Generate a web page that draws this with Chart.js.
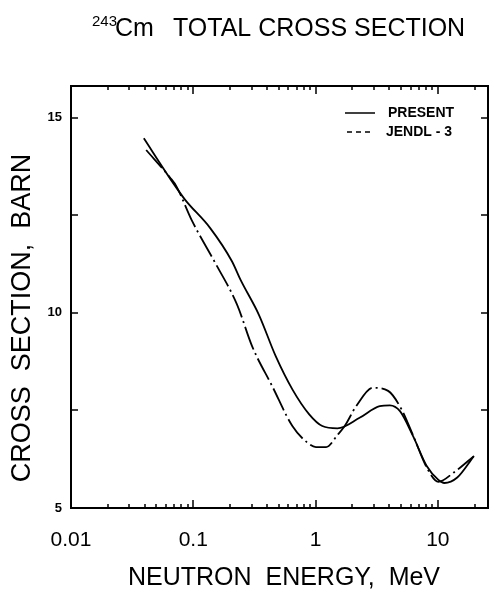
<!DOCTYPE html>
<html>
<head>
<meta charset="utf-8">
<script src="https://cdn.jsdelivr.net/npm/chart.js@4"></script>
<style>
	body { margin: 0; background: #fff; }
	canvas { display: block; }
</style>
</head>
<body>
<canvas id="chart" width="491" height="589"></canvas>
<script>
// values (energy in MeV, cross section in barn)
const presentEnergy = [0.0394, 0.0643, 0.0855, 0.1375, 0.207, 0.243, 0.344, 0.472, 0.646, 0.887, 1.135, 1.51, 2.29, 3.35, 4.05, 4.90, 6.27, 8.13, 10.1, 11.3, 14.4, 19.7];
const presentSigma = [14.47, 13.45, 12.90, 12.17, 11.32, 10.85, 9.95, 8.89, 8.04, 7.40, 7.10, 7.04, 7.31, 7.61, 7.63, 7.48, 6.84, 6.07, 5.72, 5.64, 5.78, 6.33];

const jendlEnergy = [0.0412, 0.0647, 0.0728, 0.0968, 0.151, 0.228, 0.303, 0.442, 0.646, 0.859, 1.007, 1.22, 1.52, 1.73, 2.15, 2.95, 3.92, 5.06, 6.31, 8.13, 10.1, 13.5, 19.7];
const jendlSigma = [14.17, 13.46, 13.24, 12.38, 11.28, 10.21, 9.14, 8.12, 7.10, 6.67, 6.56, 6.56, 6.88, 7.10, 7.61, 8.08, 8.00, 7.52, 6.84, 6.03, 5.67, 5.91, 6.33];

// tick labels
const xTickValues = [0.01, 0.1, 1, 10];
const yTickValues = [5, 10, 15];
const yMinorValues = [7.5, 12.5];

const FONT = "'Liberation Sans', Arial, sans-serif";

// make {x, y} points for the chart
function toPoints(xs, ys) {
	return xs.map((x, i) => ({ x: x, y: ys[i] }));
}

// frame, inward ticks, titles and legend
const decorations = {
	id: 'decorations',
	afterDraw(chart) {
		const ctx = chart.ctx;
		const area = chart.chartArea;
		const xScale = chart.scales.x;
		const yScale = chart.scales.y;

		ctx.save();
		ctx.strokeStyle = '#000';
		ctx.fillStyle = '#000';

		// frame
		ctx.lineWidth = 2;
		ctx.strokeRect(area.left, area.top, area.right - area.left, area.bottom - area.top);

		// x ticks on bottom and top, pointing inside
		ctx.lineWidth = 1.5;
		xTickValues.forEach(decade => {
			for (let k = 1; k <= 9; k++) {
				const v = decade * k;
				if (v < xScale.min || v > xScale.max) continue;
				const px = Math.round(xScale.getPixelForValue(v));
				const len = k == 1 ? 8 : 4;
				ctx.beginPath();
				ctx.moveTo(px, area.bottom);
				ctx.lineTo(px, area.bottom - len);
				ctx.moveTo(px, area.top);
				ctx.lineTo(px, area.top + len);
				ctx.stroke();
			}
		});

		// y ticks on left and right
		yTickValues.concat(yMinorValues).forEach(v => {
			const py = Math.round(yScale.getPixelForValue(v));
			ctx.beginPath();
			ctx.moveTo(area.left, py);
			ctx.lineTo(area.left + 7, py);
			ctx.moveTo(area.right, py);
			ctx.lineTo(area.right - 7, py);
			ctx.stroke();
		});

		// main title with superscript
		ctx.textBaseline = 'alphabetic';
		ctx.textAlign = 'left';
		ctx.font = '15px ' + FONT;
		ctx.fillText('243', 92, 26);
		ctx.font = '25px ' + FONT;
		ctx.fillText('Cm', 115, 36);
		ctx.fillText('TOTAL CROSS SECTION', 173, 36);

		// axis titles
		ctx.textAlign = 'center';
		ctx.font = '25px ' + FONT;
		ctx.fillText('NEUTRON  ENERGY,  MeV', 284, 585);

		ctx.save();
		ctx.translate(30, 318);
		ctx.rotate(-Math.PI / 2);
		ctx.font = '27px ' + FONT;
		ctx.fillText('CROSS  SECTION,  BARN', 0, 0);
		ctx.restore();

		// legend
		ctx.lineWidth = 1.5;
		ctx.beginPath();
		ctx.moveTo(345, 113);
		ctx.lineTo(375, 113);
		ctx.stroke();
		ctx.setLineDash([5, 4]);
		ctx.beginPath();
		ctx.moveTo(347, 132);
		ctx.lineTo(370, 132);
		ctx.stroke();
		ctx.setLineDash([]);
		ctx.textAlign = 'left';
		ctx.textBaseline = 'middle';
		ctx.font = 'bold 14px ' + FONT;
		ctx.fillText('PRESENT', 388, 113);
		ctx.fillText('JENDL - 3', 386, 132);

		ctx.restore();
	}
};

const ctx = document.getElementById('chart').getContext('2d');

new Chart(ctx, {
	type: 'scatter',
	data: {
		datasets: [{
			label: 'PRESENT',
			data: toPoints(presentEnergy, presentSigma),
			showLine: true,
			borderColor: '#000',
			borderWidth: 1.8,
			pointRadius: 0,
			cubicInterpolationMode: 'monotone'
		}, {
			label: 'JENDL - 3',
			data: toPoints(jendlEnergy, jendlSigma),
			showLine: true,
			borderColor: '#000',
			borderWidth: 1.8,
			borderDash: [24, 4, 2, 4],
			pointRadius: 0,
			cubicInterpolationMode: 'monotone'
		}]
	},
	options: {
		responsive: false,
		devicePixelRatio: 1,
		animation: false,
		layout: {
			padding: { top: 86, right: 3, left: 0, bottom: 0 }
		},
		plugins: {
			legend: { display: false },
			tooltip: { enabled: false }
		},
		scales: {
			x: {
				type: 'logarithmic',
				min: 0.01,
				max: 25.7,
				grid: { display: false, drawTicks: false },
				border: { display: false },
				afterBuildTicks: scale => {
					scale.ticks = xTickValues.map(v => ({ value: v, major: true }));
				},
				afterFit: scale => { scale.height = 81; },
				ticks: {
					color: '#000',
					padding: 20,
					maxRotation: 0,
					autoSkip: false,
					font: { family: FONT, size: 21 },
					callback: value => String(value)
				}
			},
			y: {
				min: 5,
				max: 15.81,
				grid: { display: false, drawTicks: false },
				border: { display: false },
				afterBuildTicks: scale => {
					scale.ticks = yTickValues.map(v => ({ value: v }));
				},
				afterFit: scale => { scale.width = 71; },
				ticks: {
					color: '#000',
					padding: 9,
					font: { family: FONT, size: 13, weight: 'bold' }
				}
			}
		}
	},
	plugins: [decorations]
});
</script>
</body>
</html>
